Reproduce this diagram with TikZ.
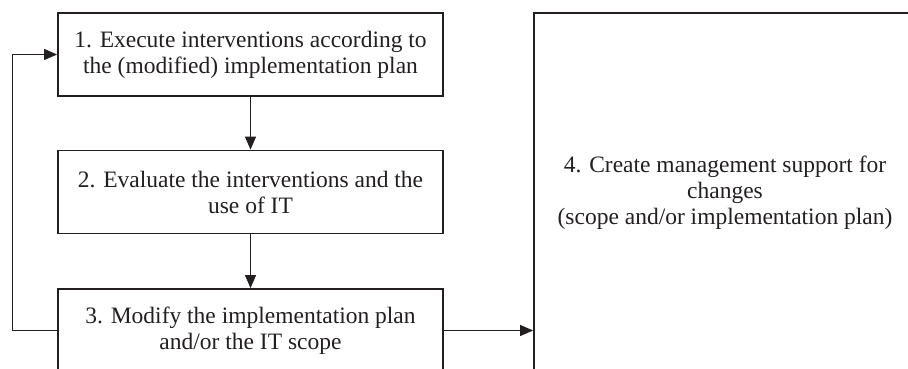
\documentclass[tikz,border=0pt]{standalone}
\usepackage{fontspec}
\setmainfont{Liberation Serif}
\usepackage{tikz}
\usetikzlibrary{arrows.meta, positioning, calc}
\usepackage{xcolor}
\definecolor{FrameBlack}{HTML}{231F20}
\definecolor{TextBlack}{HTML}{231F20}
\tikzset{
    % Box styles - sharp corners, no fill
    stepbox/.style={
        rectangle,
        draw=FrameBlack,
        line width=1.8pt,
        minimum width=385pt,
        minimum height=83pt,
        align=center,
        text=TextBlack,
        font=\fontsize{23.5}{26}\selectfont
    },
    supportbox/.style={
        rectangle,
        draw=FrameBlack,
        line width=1.8pt,
        minimum width=382pt,
        minimum height=359pt,
        align=center,
        text=TextBlack,
        font=\fontsize{23.5}{26}\selectfont
    },
    % Arrow style - straight lines only
    arrow/.style={
        -{Triangle[length=13pt,width=11pt]},
        line width=1.1pt,
        draw=FrameBlack
    }
}
\begin{document}
\begin{tikzpicture}[x=1pt, y=-1pt]
    \useasboundingbox (0,0) rectangle (908,369);
    \clip (0,0) rectangle (908,369);

    \node[stepbox] (execute) at (250.5,54.5) {1. Execute interventions according to\\the (modified) implementation plan};
    \node[stepbox] (evaluate) at (250.5,192) {2. Evaluate the interventions and the\\use of IT};
    \node[stepbox] (modify) at (250.5,330.5) {3. Modify the implementation plan\\and/or the IT scope};
    \node[supportbox] (support) at (725,192.5) {4. Create management support for\\changes\\(scope and/or implementation plan)};

    \draw[arrow] (execute) -- (evaluate);
    \draw[arrow] (evaluate) -- (modify);
    \draw[arrow] (modify.west) -- ++(-45,0) |- (execute.west);
    \draw[arrow] (modify.east) -- (support.west |- modify.east);
\end{tikzpicture}
\end{document}
